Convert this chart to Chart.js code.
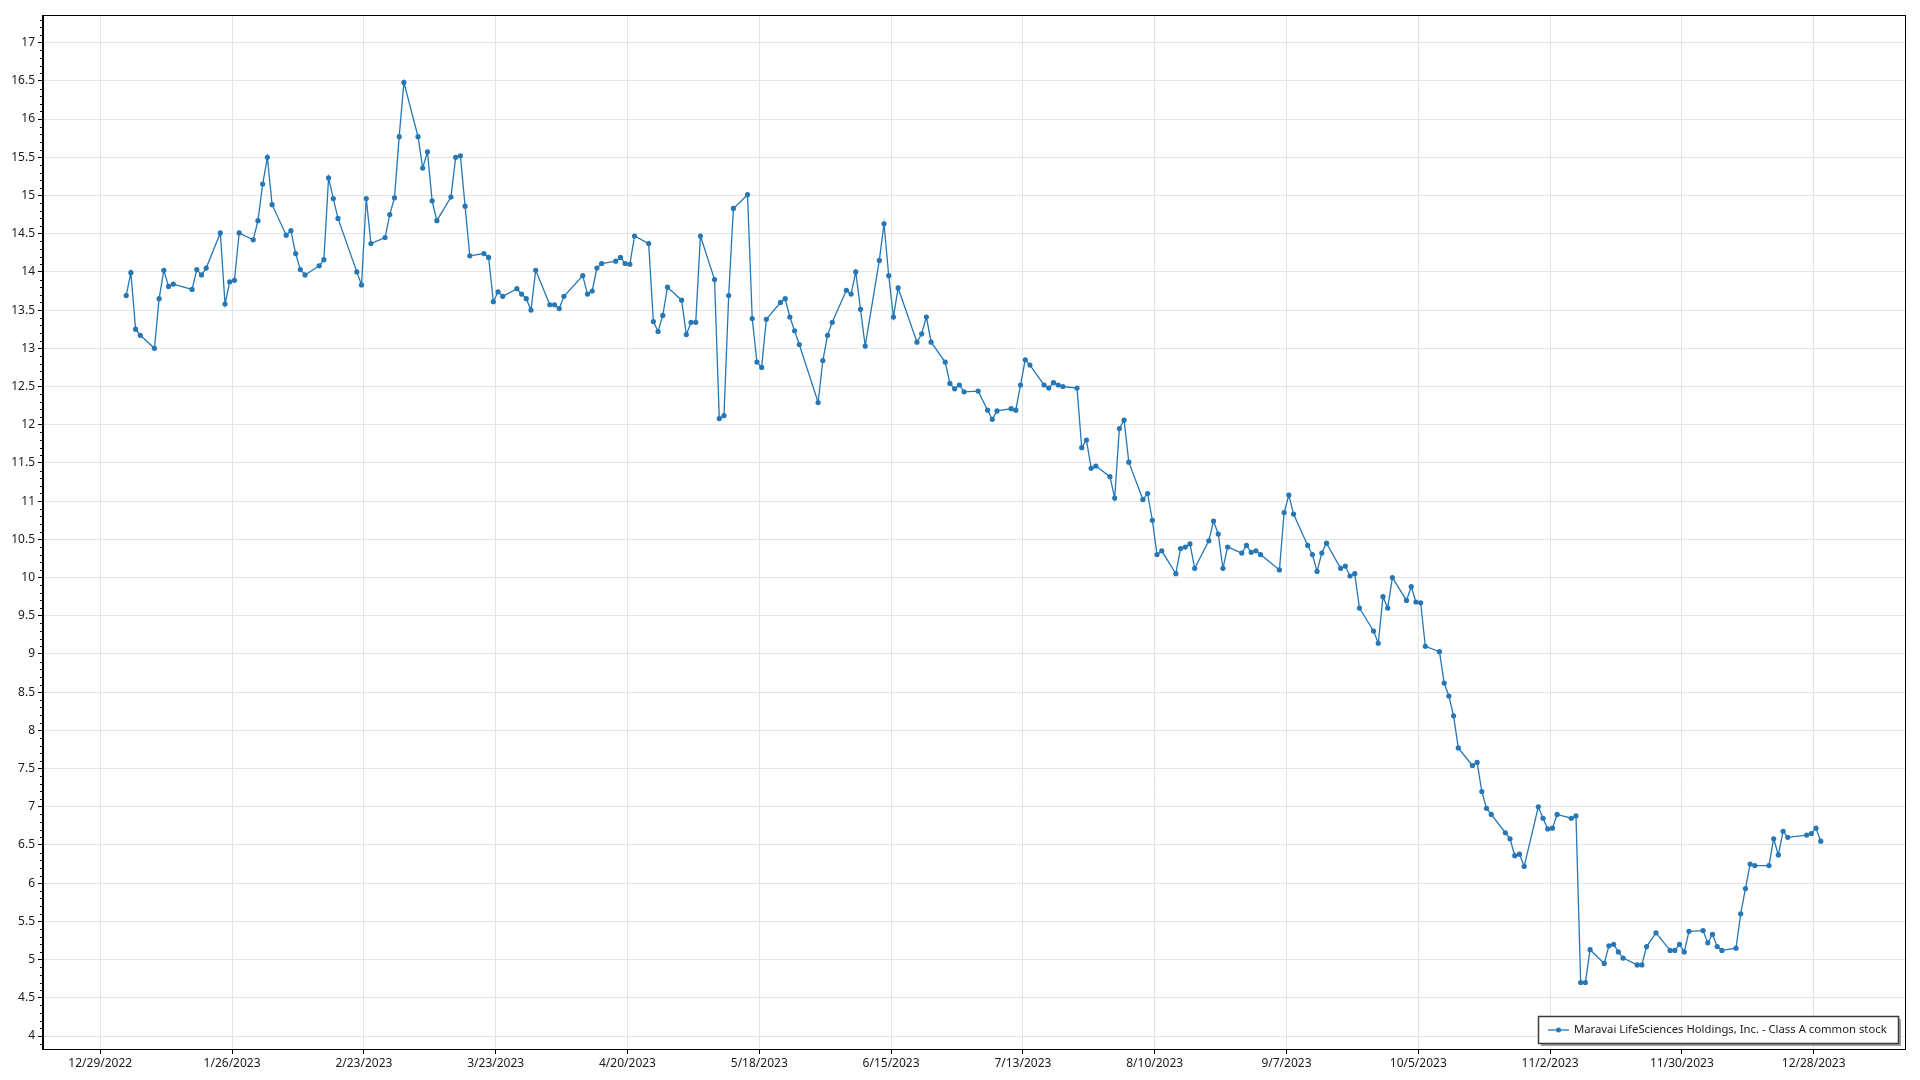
<!DOCTYPE html>
<html>
<head>
<meta charset="utf-8">
<script src="https://cdn.jsdelivr.net/npm/chart.js@4.4.0/dist/chart.umd.min.js"></script>
<style>
  html, body { margin: 0; padding: 0; background: #fff; }
  #wrap { width: 1920px; height: 1080px; }
</style>
</head>
<body>
<div id="wrap"><canvas id="priceChart" width="1920" height="1080"></canvas></div>
<script>
const seriesName = "Maravai LifeSciences Holdings, Inc. - Class A common stock";
const year = 2023;

// trading days (month/day) of 2023
const dates = [
  "1/3","1/4","1/5","1/6","1/9","1/10","1/11","1/12","1/13","1/17","1/18","1/19","1/20","1/23","1/24","1/25","1/26","1/27","1/30","1/31",
  "2/1","2/2","2/3","2/6","2/7","2/8","2/9","2/10","2/13","2/14","2/15","2/16","2/17","2/21","2/22","2/23","2/24","2/27","2/28",
  "3/1","3/2","3/3","3/6","3/7","3/8","3/9","3/10","3/13","3/14","3/15","3/16","3/17","3/20","3/21","3/22","3/23","3/24","3/27","3/28","3/29","3/30","3/31",
  "4/3","4/4","4/5","4/6","4/10","4/11","4/12","4/13","4/14","4/17","4/18","4/19","4/20","4/21","4/24","4/25","4/26","4/27","4/28",
  "5/1","5/2","5/3","5/4","5/5","5/8","5/9","5/10","5/11","5/12","5/15","5/16","5/17","5/18","5/19","5/22","5/23","5/24","5/25","5/26","5/30","5/31",
  "6/1","6/2","6/5","6/6","6/7","6/8","6/9","6/12","6/13","6/14","6/15","6/16","6/20","6/21","6/22","6/23","6/26","6/27","6/28","6/29","6/30",
  "7/3","7/5","7/6","7/7","7/10","7/11","7/12","7/13","7/14","7/17","7/18","7/19","7/20","7/21","7/24","7/25","7/26","7/27","7/28","7/31",
  "8/1","8/2","8/3","8/4","8/7","8/8","8/9","8/10","8/11","8/14","8/15","8/16","8/17","8/18","8/21","8/22","8/23","8/24","8/25","8/28","8/29","8/30","8/31",
  "9/1","9/5","9/6","9/7","9/8","9/11","9/12","9/13","9/14","9/15","9/18","9/19","9/20","9/21","9/22","9/25","9/26","9/27","9/28","9/29",
  "10/2","10/3","10/4","10/5","10/6","10/9","10/10","10/11","10/12","10/13","10/16","10/17","10/18","10/19","10/20","10/23","10/24","10/25","10/26","10/27","10/30","10/31",
  "11/1","11/2","11/3","11/6","11/7","11/8","11/9","11/10","11/13","11/14","11/15","11/16","11/17","11/20","11/21","11/22","11/24","11/27","11/28","11/29","11/30",
  "12/1","12/4","12/5","12/6","12/7","12/8","12/11","12/12","12/13","12/14","12/15","12/18","12/19","12/20","12/21","12/22","12/26","12/27","12/28","12/29"
];

const prices = [
  13.69,13.99,13.25,13.17,13.00,13.65,14.02,13.81,13.84,13.77,14.03,13.96,14.05,14.51,13.58,13.87,13.89,14.51,14.42,14.67,
  15.15,15.50,14.88,14.48,14.54,14.24,14.03,13.96,14.08,14.16,15.23,14.96,14.70,14.00,13.83,14.96,14.37,14.45,14.75,
  14.97,15.77,16.48,15.77,15.36,15.57,14.93,14.67,14.98,15.50,15.52,14.86,14.21,14.24,14.19,13.61,13.74,13.68,13.78,13.71,13.65,13.50,14.02,
  13.57,13.57,13.52,13.68,13.95,13.71,13.75,14.05,14.11,14.14,14.19,14.11,14.10,14.47,14.37,13.35,13.22,13.43,13.80,
  13.63,13.18,13.34,13.34,14.47,13.90,12.08,12.12,13.69,14.83,15.01,13.39,12.82,12.75,13.38,13.60,13.65,13.41,13.23,13.05,12.29,12.84,
  13.17,13.34,13.76,13.71,14.00,13.51,13.03,14.15,14.63,13.95,13.41,13.79,13.08,13.19,13.41,13.08,12.82,12.54,12.47,12.52,12.43,
  12.44,12.19,12.07,12.18,12.21,12.19,12.52,12.85,12.78,12.52,12.48,12.55,12.52,12.50,12.48,11.70,11.80,11.43,11.46,11.32,
  11.04,11.95,12.06,11.51,11.02,11.10,10.75,10.30,10.35,10.05,10.38,10.40,10.44,10.12,10.48,10.74,10.57,10.12,10.40,10.32,10.42,10.33,10.35,
  10.30,10.10,10.85,11.08,10.83,10.42,10.30,10.08,10.32,10.45,10.12,10.15,10.02,10.05,9.60,9.30,9.14,9.75,9.60,10.00,
  9.70,9.88,9.68,9.67,9.10,9.03,8.62,8.45,8.19,7.77,7.54,7.58,7.20,6.98,6.90,6.66,6.58,6.36,6.38,6.22,7.00,6.85,
  6.71,6.72,6.90,6.85,6.88,4.70,4.70,5.13,4.95,5.18,5.20,5.10,5.02,4.93,4.93,5.17,5.35,5.12,5.12,5.20,5.10,
  5.37,5.38,5.22,5.33,5.17,5.12,5.15,5.60,5.93,6.25,6.23,6.23,6.58,6.37,6.68,6.60,6.63,6.65,6.72,6.55
];

const xTickLabels = ["12/29/2022","1/26/2023","2/23/2023","3/23/2023","4/20/2023","5/18/2023","6/15/2023",
  "7/13/2023","8/10/2023","9/7/2023","10/5/2023","11/2/2023","11/30/2023","12/28/2023"];
const yTicks = [4,4.5,5,5.5,6,6.5,7,7.5,8,8.5,9,9.5,10,10.5,11,11.5,12,12.5,13,13.5,14,14.5,15,15.5,16,16.5,17];

const DAY = 86400000;
const lineColor = "#2677b5";
const fontFamily = "'Segoe UI', 'Noto Sans', sans-serif";

function parseDate(s) {
  const p = s.split("/").map(Number);
  return Date.UTC(p.length > 2 ? p[2] : year, p[0] - 1, p[1]);
}
function fmtDate(t) {
  const d = new Date(t);
  return (d.getUTCMonth() + 1) + "/" + d.getUTCDate() + "/" + d.getUTCFullYear();
}

const xTickTimes = xTickLabels.map(parseDate);
// prices are stamped at midday of their trading day
const points = dates.map((d, i) => ({ x: parseDate(d) + DAY / 2, y: prices[i] }));

// frame round the plot, minor y ticks, legend box
const extras = {
  id: "extras",
  afterDraw(chart) {
    const ctx = chart.ctx;
    const a = chart.chartArea;
    const ys = chart.scales.y;

    ctx.save();
    ctx.strokeStyle = "#000";
    ctx.lineWidth = 1;
    ctx.strokeRect(Math.round(a.left) - 0.5, Math.round(a.top) + 0.5, Math.round(a.right - a.left) + 1, Math.round(a.bottom - a.top));

    ctx.beginPath();
    for (let i = 39; i <= 173; i++) {
      if (i % 5 === 0) continue;
      const py = Math.round(ys.getPixelForValue(i / 10)) + 0.5;
      if (py < a.top || py > a.bottom) continue;
      ctx.moveTo(a.left - 3, py);
      ctx.lineTo(a.left, py);
    }
    ctx.stroke();

    // legend
    ctx.font = "11.3px " + fontFamily;
    const tw = ctx.measureText(seriesName).width;
    const w = Math.round(tw + 47), h = 27;
    const x = Math.round(a.right - 7 - w), y = Math.round(a.bottom - 6 - h);
    ctx.fillStyle = "#a0a0a0";
    ctx.fillRect(x + 3, y + 3, w, h);
    ctx.fillStyle = "#fff";
    ctx.fillRect(x, y, w, h);
    ctx.strokeStyle = "#3c3c3c";
    ctx.lineWidth = 1.5;
    ctx.strokeRect(x + 0.5, y + 0.5, w, h);
    const cy = y + h / 2 + 0.5;
    ctx.strokeStyle = lineColor;
    ctx.lineWidth = 1.3;
    ctx.beginPath();
    ctx.moveTo(x + 10, cy);
    ctx.lineTo(x + 31, cy);
    ctx.stroke();
    ctx.fillStyle = lineColor;
    ctx.beginPath();
    ctx.arc(x + 20.5, cy, 2.5, 0, Math.PI * 2);
    ctx.fill();
    ctx.fillStyle = "#1a1a1a";
    ctx.textBaseline = "middle";
    ctx.fillText(seriesName, x + 36, cy);
    ctx.restore();
  }
};

new Chart(document.getElementById("priceChart"), {
  type: "line",
  data: {
    datasets: [{
      label: seriesName,
      data: points,
      borderColor: lineColor,
      backgroundColor: lineColor,
      borderWidth: 1.3,
      pointRadius: 2.6,
      pointBorderWidth: 0,
      pointHoverRadius: 2.6,
      tension: 0
    }]
  },
  options: {
    responsive: false,
    devicePixelRatio: 1,
    animation: false,
    layout: { padding: { top: 15, right: 15, left: 0, bottom: 0 } },
    plugins: { legend: { display: false }, tooltip: { enabled: false } },
    scales: {
      x: {
        type: "linear",
        min: xTickTimes[0] - 12.17 * DAY,
        max: xTickTimes[0] + 383.4 * DAY,
        afterBuildTicks: s => { s.ticks = xTickTimes.map(v => ({ value: v })); },
        afterFit: s => { s.height = 31; },
        grid: { color: "#e4e4e4", tickColor: "#000", tickLength: 5 },
        border: { display: true, color: "#000", width: 1 },
        ticks: {
          autoSkip: false, maxRotation: 0, padding: 2,
          color: "#1a1a1a", font: { family: fontFamily, size: 12 },
          callback: v => fmtDate(v)
        }
      },
      y: {
        min: 3.83,
        max: 17.362,
        afterBuildTicks: s => { s.ticks = yTicks.map(v => ({ value: v })); },
        afterFit: s => { s.width = 43; },
        grid: { color: "#e4e4e4", tickColor: "#000", tickLength: 5 },
        border: { display: true, color: "#000", width: 1 },
        ticks: {
          padding: 3,
          color: "#1a1a1a", font: { family: fontFamily, size: 12 },
          callback: v => String(v)
        }
      }
    }
  },
  plugins: [extras]
});
</script>
</body>
</html>
